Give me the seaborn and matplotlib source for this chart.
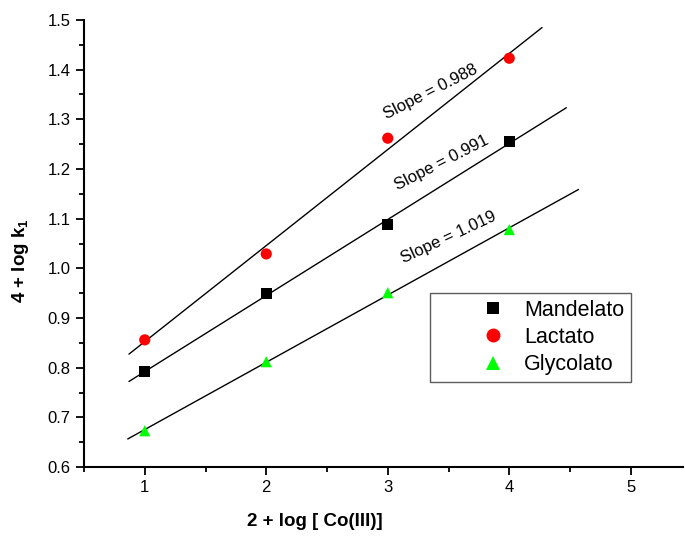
import numpy as np
import pandas as pd
import matplotlib
matplotlib.use("Agg")
import matplotlib.pyplot as plt
import seaborn as sns
from matplotlib.ticker import MultipleLocator, FormatStrFormatter
from matplotlib.lines import Line2D

sns.set_theme(style="ticks")
plt.rcParams['font.family'] = ['Liberation Sans', 'DejaVu Sans']
plt.rcParams['text.color'] = 'black'
plt.rcParams['axes.labelcolor'] = 'black'
plt.rcParams['xtick.color'] = 'black'
plt.rcParams['ytick.color'] = 'black'
plt.rcParams['mathtext.fontset'] = 'custom'
plt.rcParams['mathtext.rm'] = 'Liberation Sans'
plt.rcParams['mathtext.bf'] = 'Liberation Sans:bold'

# Data
x_vals = [1, 2, 3, 4]
mandelato = [0.792, 0.950, 1.089, 1.256]
lactato = [0.856, 1.029, 1.262, 1.423]
glycolato = [0.673, 0.812, 0.951, 1.078]
series_names = ["Mandelato", "Lactato", "Glycolato"]
slope_labels = ["Slope = 0.991", "Slope = 0.988", "Slope = 1.019"]
fit_start = [0.87, 0.87, 0.86]
fit_end = [4.47, 4.27, 4.57]
label_pos_x = [3.44, 3.35, 3.50]
label_pos_y = [1.213, 1.355, 1.062]
label_rot = [27, 27, 25]
x_ticks = [1, 2, 3, 4, 5]

colors = ["#000000", "#ff0000", "#00ff00"]
markers = ["s", "o", "^"]

df = pd.DataFrame({
    "x": x_vals * 3,
    "y": mandelato + lactato + glycolato,
    "series": [n for n in series_names for _ in x_vals],
})

fig = plt.figure(figsize=(6.85, 5.37), dpi=100)
ax = fig.add_axes([84/685, (537-467)/537, (683-84)/685, (467-20)/537])

for name, ys, c, m, x0, x1 in zip(series_names, [mandelato, lactato, glycolato],
                                 colors, markers, fit_start, fit_end):
    k, b = np.polyfit(x_vals, ys, 1)
    xs = np.array([x0, x1])
    ax.plot(xs, k * xs + b, color="black", lw=1.0, zorder=2)

sns.scatterplot(data=df, x="x", y="y", hue="series", style="series",
                palette=colors, markers=markers, s=65, edgecolor="none",
                ax=ax, zorder=3, legend=False)

for t, px, py, r in zip(slope_labels, label_pos_x, label_pos_y, label_rot):
    ax.text(px, py, t, rotation=r, fontsize=12, ha="center", va="center",
            rotation_mode="anchor", color="black")

ax.set_xlim(0.5, 0.5 + (683-84)/121.5)
ax.set_ylim(0.6, 1.5)
ax.set_xticks(x_ticks)
ax.xaxis.set_minor_locator(MultipleLocator(0.5))
ax.yaxis.set_major_locator(MultipleLocator(0.1))
ax.yaxis.set_minor_locator(MultipleLocator(0.05))
ax.tick_params(which="major", direction="out", length=6, width=1.3, labelsize=12,
               colors="black", labelcolor="black")
ax.tick_params(which="minor", direction="out", length=3.5, width=1.3, colors="black")
ax.yaxis.set_major_formatter(FormatStrFormatter("%.1f"))
for s in ["top", "right"]:
    ax.spines[s].set_visible(False)
for s in ["left", "bottom"]:
    ax.spines[s].set_linewidth(1.5)
    ax.spines[s].set_color("black")
ax.grid(False)

ax.set_xlabel("2 + log [ Co(III)]", fontsize=13.5, fontweight="bold", color="black")
ax.set_ylabel(r"4 + log k$_\mathbf{1}$", fontsize=13.5, fontweight="bold", color="black")
ax.xaxis.set_label_coords((315-84)/599, -(513-467)/447)
ax.yaxis.set_label_coords(-(84-31)/599, (467-261)/447)

handles = [Line2D([], [], ls="none", marker=m, color=c, markersize=10 if m != "s" else 9,
                  markeredgewidth=0) for m, c in zip(markers, colors)]
leg = ax.legend(handles, series_names, loc="upper left",
                bbox_to_anchor=(0.578, 0.389), borderaxespad=0,
                fontsize=15.5, borderpad=0.3, handlelength=5.26, handletextpad=-1.19,
                labelspacing=0.3, frameon=True, fancybox=False)
leg.get_frame().set_edgecolor("#333333")
leg.get_frame().set_linewidth(1.0)
for t in leg.get_texts():
    t.set_color("black")

fig.savefig("out.png", dpi=100)
